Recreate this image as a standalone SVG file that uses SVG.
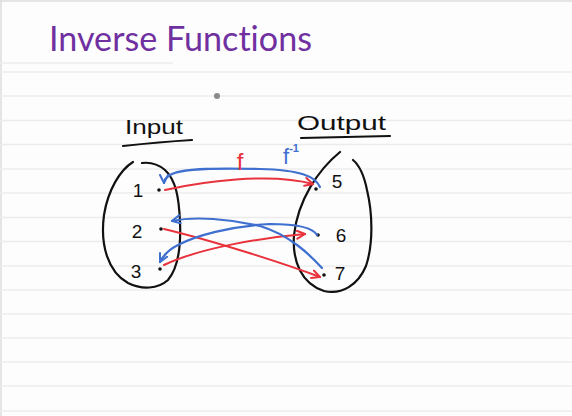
<svg xmlns="http://www.w3.org/2000/svg" width="572" height="416" viewBox="0 0 572 416">
<defs>
<style>
.rule{stroke:#ececec;stroke-width:1.5}
.ink{fill:none;stroke:#111;stroke-width:2.2;stroke-linecap:round;stroke-linejoin:round}
.hand{font-family:"Liberation Sans",Arial,sans-serif;fill:#111}
.red{fill:none;stroke:#e8323c;stroke-width:2;stroke-linecap:round}
.blue{fill:none;stroke:#3f6fcf;stroke-width:2.2;stroke-linecap:round}
.dot{fill:#111}
</style>
<marker id="ab" viewBox="0 0 10 10" refX="9" refY="5" markerWidth="10" markerHeight="10" orient="auto" markerUnits="userSpaceOnUse">
<path d="M1,1 L9,5 L1,9" fill="none" stroke="#3f6fcf" stroke-width="2" stroke-linecap="round"/>
</marker>
<marker id="ar2" viewBox="0 0 10 10" refX="9" refY="5" markerWidth="10" markerHeight="10" orient="auto" markerUnits="userSpaceOnUse">
<path d="M1,1 L9,5 L1,9" fill="none" stroke="#e8323c" stroke-width="2" stroke-linecap="round"/>
</marker>
</defs>
<rect width="572" height="416" fill="#fdfdfd"/>
<g id="paper">
<line x1="1" y1="0" x2="1" y2="416" stroke="#dcdcdc" stroke-width="1.5"/>
<line x1="0" y1="1" x2="572" y2="1" stroke="#dcdcdc" stroke-width="1.5"/>
<line x1="0" y1="63" x2="173" y2="63" class="rule"/>
<line x1="0" y1="72" x2="572" y2="72" class="rule"/>
<line x1="0" y1="96" x2="572" y2="96" class="rule"/>
<line x1="0" y1="120.5" x2="572" y2="120.5" class="rule"/>
<line x1="0" y1="144.5" x2="572" y2="144.5" class="rule"/>
<line x1="0" y1="169" x2="572" y2="169" class="rule"/>
<line x1="0" y1="193" x2="572" y2="193" class="rule"/>
<line x1="0" y1="217.5" x2="572" y2="217.5" class="rule"/>
<line x1="0" y1="241.5" x2="572" y2="241.5" class="rule"/>
<line x1="0" y1="266" x2="572" y2="266" class="rule"/>
<line x1="0" y1="290" x2="572" y2="290" class="rule"/>
<line x1="0" y1="314" x2="572" y2="314" class="rule"/>
<line x1="0" y1="338" x2="572" y2="338" class="rule"/>
<line x1="0" y1="362" x2="572" y2="362" class="rule"/>
<line x1="0" y1="386" x2="572" y2="386" class="rule"/>
<line x1="0" y1="411" x2="572" y2="411" class="rule"/>
<circle cx="217" cy="96" r="3" fill="#8a8a8a"/>
</g>
<text x="49" y="51" font-family="Lato,'Open Sans',sans-serif" font-size="34" fill="#7030a0" style="font-variant-ligatures:none" textLength="263" lengthAdjust="spacingAndGlyphs">Inverse Functions</text>
<g id="input">
<text class="hand" x="125" y="134" font-size="20" textLength="58" lengthAdjust="spacingAndGlyphs">Input</text>
<path class="ink" d="M123,146 Q160,142 192,140"/>
<path class="ink" d="M133,162 C120,170 108,190 104,215 C100,245 108,272 128,283 C142,290 158,289 168,280 C178,268 181,245 180,222 C179,198 176,180 165,170 C158,164 150,162 142,163"/>
</g>
<g id="output">
<text class="hand" x="297" y="130" font-size="20" textLength="89" lengthAdjust="spacingAndGlyphs">Output</text>
<path class="ink" d="M301,138 Q345,137 390,136"/>
<path class="ink" d="M340,152 C318,170 298,200 294,235 C292,262 302,284 324,291 C342,295 358,285 366,266 C373,245 373,215 367,190 C364,175 359,165 353,160"/>
</g>
<g id="n1"><text class="hand" x="138" y="197" font-size="19" text-anchor="middle">1</text><circle class="dot" cx="159" cy="190" r="1.8"/></g>
<g id="n2"><text class="hand" x="137" y="238" font-size="19" text-anchor="middle">2</text><circle class="dot" cx="161" cy="229" r="1.8"/></g>
<g id="n3"><text class="hand" x="136" y="278" font-size="19" text-anchor="middle">3</text><circle class="dot" cx="160" cy="269" r="1.8"/></g>
<g id="n5"><text class="hand" x="337" y="188" font-size="19" text-anchor="middle">5</text><circle class="dot" cx="316" cy="189" r="1.8"/></g>
<g id="n6"><text class="hand" x="341" y="242" font-size="19" text-anchor="middle">6</text><circle class="dot" cx="318" cy="235" r="1.8"/></g>
<g id="n7"><text class="hand" x="340" y="280" font-size="19" text-anchor="middle">7</text><circle class="dot" cx="324" cy="275" r="1.8"/></g>
<g id="connectors">
<path class="red" d="M165,190 C200,182 270,172 313,184" marker-end="url(#ar2)"/>
<path class="blue" d="M320,187 C315,176 300,170 260,169 C220,168 185,168 172,174 C166,177 164,180 164,183" marker-end="url(#ab)"/>
<path class="red" d="M164,229 C210,240 280,262 320,277" marker-end="url(#ar2)"/>
<path class="red" d="M164,265 C200,248 260,238 305,234" marker-end="url(#ar2)"/>
<path class="blue" d="M317,235 C313,228 300,224 270,224 C230,226 195,236 178,245 C168,250 163,256 160,262" marker-end="url(#ab)"/>
<path class="blue" d="M322,268 C310,255 290,235 260,226 C230,219 195,216 172,221" marker-end="url(#ab)"/>
<text x="240" y="170" font-family="'Liberation Sans',Arial,sans-serif" font-size="24" fill="#e8323c" text-anchor="middle">f</text>
<text x="283" y="164" font-family="'Liberation Sans',Arial,sans-serif" font-size="22" fill="#3f6fcf">f<tspan font-size="11" font-weight="bold" dy="-12">-1</tspan></text>
</g>
</svg>
